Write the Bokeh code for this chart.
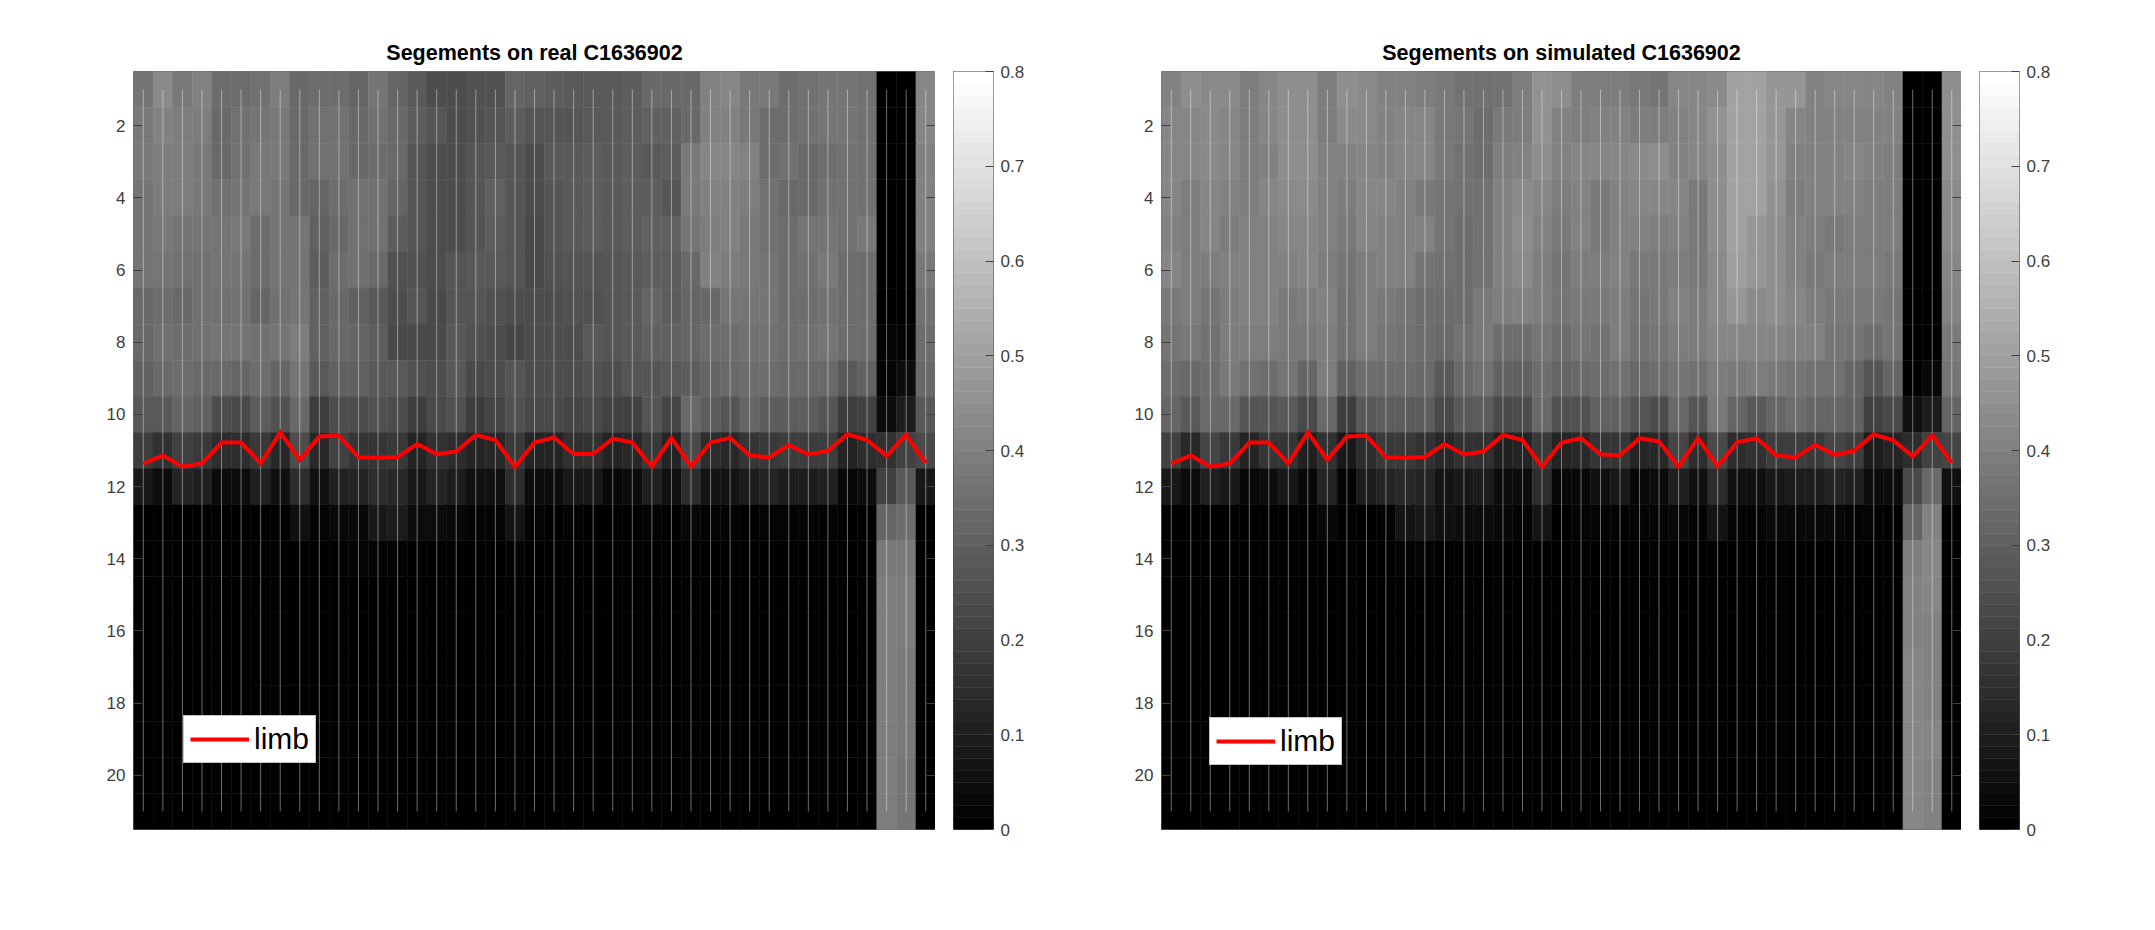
from bokeh.embed import file_html
from bokeh.resources import INLINE
from bokeh.layouts import row
from bokeh.plotting import figure
from bokeh.models import (ColumnDataSource, FixedTicker, Legend, LegendItem, LinearAxis,
                          LinearColorMapper, Range1d)
from bokeh.transform import transform

# Gray level of each cell (0-255 maps onto 0-0.8 on the colour bar)
real_r01 = [118,138,122,128,108,108,115,124,106,108,108,100,116,100,88,78,78,82,82,100,98,92,90,90,90,95,105,107,105,130,132,122,120,110,112,118,118,115,0,0,132]
real_r02 = [120,128,124,124,104,114,118,120,106,112,112,104,112,104,92,84,78,80,84,92,84,86,86,88,88,92,96,98,104,128,130,120,110,108,112,116,116,112,0,0,132]
real_r03 = [120,124,124,122,106,114,120,120,106,112,112,104,110,104,86,78,78,86,88,86,76,88,90,92,90,92,90,94,122,134,134,128,110,112,104,110,112,112,0,0,130]
real_r04 = [118,124,124,122,112,116,120,118,104,100,110,112,114,100,84,78,78,86,98,86,76,84,88,94,90,92,94,86,122,130,128,124,112,104,106,112,112,112,0,0,128]
real_r05 = [118,120,118,118,118,120,108,118,116,96,104,112,112,92,86,78,78,84,94,86,74,84,90,94,90,92,96,96,116,126,130,122,112,108,118,116,112,120,0,0,128]
real_r06 = [118,118,112,114,116,116,110,116,118,92,110,112,104,82,80,78,84,90,90,84,74,82,84,86,84,90,92,94,104,128,126,120,116,110,112,120,110,110,0,0,120]
real_r07 = [105,110,104,112,114,114,102,112,116,96,106,96,88,76,84,72,86,84,80,78,76,76,80,82,86,88,100,92,100,106,116,118,118,110,110,112,108,108,0,0,112]
real_r08 = [106,112,108,114,118,118,112,118,124,98,106,100,94,74,74,74,90,80,76,70,76,78,78,90,86,90,96,98,102,108,110,114,114,110,112,118,110,110,4,4,108]
real_r09 = [98,104,108,106,104,100,108,100,118,88,98,96,90,88,80,78,88,74,76,84,78,78,78,82,78,84,86,88,92,100,104,108,110,106,106,106,88,96,4,14,105]
real_r10 = [88,90,100,98,78,72,92,82,104,62,78,78,82,76,62,74,82,60,68,82,72,72,70,74,66,66,84,70,106,92,84,100,92,94,92,84,60,64,14,28,88]
real_r11 = [62,48,66,56,46,44,56,40,78,40,64,52,54,56,38,50,44,36,40,58,36,38,48,50,38,40,56,38,72,46,40,54,58,60,62,60,38,44,48,66,72]
real_r12 = [26,14,36,32,14,12,34,16,46,16,34,38,44,42,24,36,30,18,18,44,14,12,26,24,10,12,34,16,44,22,20,30,36,28,30,32,10,14,66,90,24]
real_r13 = [0,0,0,0,0,3,3,3,18,4,8,10,26,28,12,14,10,6,5,20,4,3,4,3,3,0,4,3,8,4,4,3,5,5,4,4,0,0,100,110,0]
real_r14 = [0,0,0,0,0,0,0,0,0,0,0,4,6,6,2,3,3,2,0,6,0,0,0,0,0,0,0,0,0,0,0,0,0,0,0,0,0,0,122,122,0]
real_r15 = [0,0,0,0,0,0,0,0,0,0,0,0,0,2,0,2,0,0,0,0,0,0,0,0,0,0,0,0,0,0,0,0,0,0,0,0,0,0,125,125,0]
real_r16 = [0,0,0,0,0,0,0,0,0,0,0,0,0,0,0,0,0,0,0,0,0,0,0,0,0,0,0,0,0,0,0,0,0,0,0,0,0,0,125,124,0]
real_r17 = [0,0,0,0,0,0,0,0,0,0,0,0,0,0,0,0,0,0,0,0,0,0,0,0,0,0,0,0,0,0,0,0,0,0,0,0,0,0,125,120,0]
real_r18 = [0,0,0,0,0,0,0,0,0,0,0,0,0,0,0,0,0,0,0,0,0,0,0,0,0,0,0,0,0,0,0,0,0,0,0,0,0,0,125,120,0]
real_r19 = [0,0,0,0,0,0,0,0,0,0,0,0,0,0,0,0,0,0,0,0,0,0,0,0,0,0,0,0,0,0,0,0,0,0,0,0,0,0,125,120,0]
real_r20 = [0,0,0,0,0,0,0,0,0,0,0,0,0,0,0,0,0,0,0,0,0,0,0,0,0,0,0,0,0,0,0,0,0,0,0,0,0,0,125,118,0]
real_r21 = [0,0,0,0,0,0,0,0,0,0,0,0,0,0,0,0,0,0,0,0,0,0,0,0,0,0,0,0,0,0,0,0,0,0,0,0,0,0,125,118,0]

sim_r01 = [130,140,138,138,126,132,140,140,124,142,138,130,128,126,120,112,112,114,126,144,142,124,124,126,120,118,132,134,136,160,162,148,150,130,134,134,134,130,0,0,142]
sim_r02 = [132,134,136,132,126,132,142,142,124,138,138,130,132,132,122,116,110,120,126,146,130,124,128,130,124,126,130,134,144,160,160,148,132,130,130,130,130,130,0,0,142]
sim_r03 = [132,132,136,132,124,130,142,142,130,130,132,130,132,132,120,114,110,126,128,140,128,132,134,132,136,142,130,134,142,162,160,148,128,130,130,134,128,126,0,0,140]
sim_r04 = [134,124,134,128,124,132,138,138,130,124,132,132,130,122,116,112,114,128,138,134,124,130,122,130,134,134,134,120,140,160,160,146,124,128,128,130,126,126,0,0,138]
sim_r05 = [130,126,134,124,128,130,132,132,128,122,132,130,128,128,116,110,112,128,140,128,120,128,122,130,128,126,128,120,140,160,150,140,128,126,122,126,126,124,0,0,138]
sim_r06 = [132,126,124,128,128,130,128,132,124,116,126,130,128,116,112,110,114,128,138,126,116,124,124,128,122,122,126,122,138,158,148,140,128,122,124,126,124,122,0,0,134]
sim_r07 = [122,126,118,126,130,128,122,126,128,114,124,120,116,110,110,110,120,126,128,124,116,120,120,124,118,122,130,126,136,150,138,140,134,126,122,122,120,118,0,0,128]
sim_r08 = [116,120,114,124,126,126,120,120,124,112,124,116,112,110,106,112,120,108,108,116,110,116,114,124,114,116,126,126,134,134,134,134,130,128,116,118,110,116,0,0,122]
sim_r09 = [110,104,110,120,112,110,116,100,124,96,110,110,108,104,88,106,112,96,96,110,100,106,108,114,104,108,118,112,126,120,124,120,116,112,112,102,86,100,0,8,118]
sim_r10 = [100,88,104,104,84,84,90,74,106,62,88,92,94,94,72,90,94,72,78,104,82,82,98,98,84,78,104,84,120,100,90,100,108,102,102,98,64,72,16,30,100]
sim_r11 = [64,42,68,58,36,52,52,34,50,26,44,58,56,50,40,48,50,34,36,56,38,42,52,54,38,40,68,44,72,46,50,62,62,58,68,62,30,36,44,64,68]
sim_r12 = [24,14,32,26,8,14,26,10,36,6,28,36,42,38,20,26,28,12,12,46,10,10,18,24,10,12,34,16,46,18,18,24,30,28,36,32,12,12,74,105,16]
sim_r13 = [0,0,0,0,0,0,0,0,10,0,0,6,22,24,16,14,12,10,4,20,3,4,4,4,4,4,10,4,20,4,4,8,8,8,8,4,4,0,100,130,0]
sim_r14 = [0,0,0,0,0,0,0,0,0,0,0,0,4,4,0,0,0,0,0,0,0,0,0,0,0,0,0,0,0,0,0,0,0,0,0,0,0,0,125,132,0]
sim_r15 = [0,0,0,0,0,0,0,0,0,0,0,0,0,0,0,0,0,0,0,0,0,0,0,0,0,0,0,0,0,0,0,0,0,0,0,0,0,0,130,135,0]
sim_r16 = [0,0,0,0,0,0,0,0,0,0,0,0,0,0,0,0,0,0,0,0,0,0,0,0,0,0,0,0,0,0,0,0,0,0,0,0,0,0,130,130,0]
sim_r17 = [0,0,0,0,0,0,0,0,0,0,0,0,0,0,0,0,0,0,0,0,0,0,0,0,0,0,0,0,0,0,0,0,0,0,0,0,0,0,132,128,0]
sim_r18 = [0,0,0,0,0,0,0,0,0,0,0,0,0,0,0,0,0,0,0,0,0,0,0,0,0,0,0,0,0,0,0,0,0,0,0,0,0,0,132,128,0]
sim_r19 = [0,0,0,0,0,0,0,0,0,0,0,0,0,0,0,0,0,0,0,0,0,0,0,0,0,0,0,0,0,0,0,0,0,0,0,0,0,0,132,134,0]
sim_r20 = [0,0,0,0,0,0,0,0,0,0,0,0,0,0,0,0,0,0,0,0,0,0,0,0,0,0,0,0,0,0,0,0,0,0,0,0,0,0,132,128,0]
sim_r21 = [0,0,0,0,0,0,0,0,0,0,0,0,0,0,0,0,0,0,0,0,0,0,0,0,0,0,0,0,0,0,0,0,0,0,0,0,0,0,132,128,0]

real_limb = [11.36,11.14,11.45,11.36,10.78,10.78,11.36,10.50,11.26,10.61,10.59,11.19,11.20,11.18,10.82,11.10,11.03,10.57,10.71,11.45,10.78,10.64,11.10,11.10,10.67,10.78,11.45,10.65,11.45,10.78,10.65,11.14,11.19,10.85,11.11,11.01,10.55,10.71,11.15,10.57,11.35]
sim_limb = [11.36,11.14,11.45,11.36,10.78,10.78,11.36,10.50,11.26,10.61,10.59,11.19,11.20,11.18,10.82,11.11,11.03,10.57,10.71,11.45,10.78,10.66,11.11,11.13,10.66,10.75,11.45,10.66,11.44,10.77,10.66,11.14,11.19,10.84,11.12,11.01,10.55,10.72,11.16,10.58,11.34]

real_rows = [real_r01,real_r02,real_r03,real_r04,real_r05,real_r06,real_r07,real_r08,real_r09,real_r10,real_r11,real_r12,real_r13,real_r14,real_r15,real_r16,real_r17,real_r18,real_r19,real_r20,real_r21]
sim_rows = [sim_r01,sim_r02,sim_r03,sim_r04,sim_r05,sim_r06,sim_r07,sim_r08,sim_r09,sim_r10,sim_r11,sim_r12,sim_r13,sim_r14,sim_r15,sim_r16,sim_r17,sim_r18,sim_r19,sim_r20,sim_r21]

columns = list(range(1, 42))
y_ticks = [2, 4, 6, 8, 10, 12, 14, 16, 18, 20]
bar_ticks = [0, 0.1, 0.2, 0.3, 0.4, 0.5, 0.6, 0.7, 0.8]
bar_labels = ["0", "0.1", "0.2", "0.3", "0.4", "0.5", "0.6", "0.7", "0.8"]
stripe_start, stripe_end = 1, 21
v_max = 0.8

gray64 = ["#%02x%02x%02x" % (g, g, g) for g in (round(i * 255 / 63) for i in range(64))]
mapper = LinearColorMapper(palette=gray64, low=0, high=v_max)

FONT = "Liberation Sans"
TICK = "#404040"
EDGE = "#707070"


def panel(title, rows, limb, border_left, frame_w, frame_h, top, leg_xy):
    xs, ys, vs = [], [], []
    for r, vals in enumerate(rows, start=1):
        for c, lv in zip(columns, vals):
            xs.append(c)
            ys.append(r)
            vs.append(lv * v_max / 255)
    p = figure(width=border_left + frame_w, height=top + frame_h + 40, frame_width=frame_w, frame_height=frame_h,
               x_range=Range1d(0.5, 41.5), y_range=Range1d(21.5, 0.5), x_axis_location=None,
               output_backend="svg", toolbar_location=None,
               min_border_left=border_left, min_border_right=0, min_border_top=top, min_border_bottom=40)
    p.grid.visible = False
    src = ColumnDataSource(dict(x=xs, y=ys, v=vs))
    col = transform("v", mapper)
    p.rect("x", "y", 1, 1, source=src, fill_color=col, line_color=col, line_width=0.5)
    p.segment(x0=columns, x1=columns, y0=[stripe_start] * len(columns), y1=[stripe_end] * len(columns),
              line_color="#ffffff", line_alpha=0.42, line_width=1)
    line = p.line(columns, limb, line_color="#ff0000", line_width=4, line_join="miter")
    leg = Legend(items=[LegendItem(label="limb", renderers=[line])], location=leg_xy, orientation="vertical",
                 label_text_font=FONT, label_text_font_size="30px", label_text_color="#000000",
                 glyph_width=59, glyph_height=30, label_standoff=5, padding=6, margin=0, spacing=0,
                 label_height=30, border_line_color="#8a8a8a", border_line_width=1,
                 background_fill_color="#ffffff", background_fill_alpha=1)
    p.add_layout(leg)
    p.outline_line_color = EDGE
    p.title.text = title
    p.title.align = "center"
    p.title.text_font = FONT
    p.title.text_font_size = "21.5px"
    p.title.text_font_style = "bold"
    p.title.text_color = "#000000"
    p.title.standoff = 14
    ax = p.yaxis[0]
    ax.ticker = FixedTicker(ticks=y_ticks)
    ax.major_tick_in = 9
    ax.major_tick_out = 0
    ax.minor_tick_in = 0
    ax.minor_tick_out = 0
    ax.axis_line_color = None
    ax.major_tick_line_color = TICK
    ax.major_label_text_font = FONT
    ax.major_label_text_font_size = "17px"
    ax.major_label_text_color = TICK
    ax.major_label_standoff = 8
    right = LinearAxis(ticker=FixedTicker(ticks=y_ticks), major_tick_in=9, major_tick_out=0,
                       minor_tick_in=0, minor_tick_out=0, axis_line_color=None,
                       major_tick_line_color=TICK, major_label_standoff=0,
                       major_label_text_font_size="1px",
                       major_label_overrides={t: "" for t in y_ticks})
    p.add_layout(right, "right")
    return p


def colorbar(border_left, frame_w, frame_h, top):
    b = figure(width=border_left + frame_w + 60, height=top + frame_h + 40, frame_width=frame_w, frame_height=frame_h,
               x_range=Range1d(0, 1), y_range=Range1d(0, v_max), x_axis_location=None, y_axis_location="right",
               output_backend="svg", toolbar_location=None,
               min_border_left=border_left, min_border_right=60, min_border_top=top, min_border_bottom=40)
    b.grid.visible = False
    step = v_max / len(gray64)
    b.quad(left=[0] * 64, right=[1] * 64, bottom=[i * step for i in range(64)], top=[(i + 1) * step for i in range(64)],
           fill_color=gray64, line_color=gray64, line_width=0.5)
    b.outline_line_color = "#505050"
    ax = b.yaxis[0]
    ax.ticker = FixedTicker(ticks=bar_ticks)
    ax.major_label_overrides = dict(zip(bar_ticks, bar_labels))
    ax.major_tick_in = 8
    ax.major_tick_out = 0
    ax.minor_tick_in = 0
    ax.minor_tick_out = 0
    ax.axis_line_color = None
    ax.major_tick_line_color = TICK
    ax.major_label_text_font = FONT
    ax.major_label_text_font_size = "17px"
    ax.major_label_text_color = TICK
    ax.major_label_standoff = 7
    return b


left = panel("Segements on real C1636902", real_rows, real_limb, 133, 802, 758, 71, (50, 66))
left_bar = colorbar(18, 40, 758, 71)
right = panel("Segements on simulated C1636902", sim_rows, sim_limb, 108, 800, 758, 70, (48, 64))
right_bar = colorbar(18, 40, 758, 70)

page = row(left, left_bar, right, right_bar, spacing=0)
open("out.html", "w").write(file_html(page, INLINE))
